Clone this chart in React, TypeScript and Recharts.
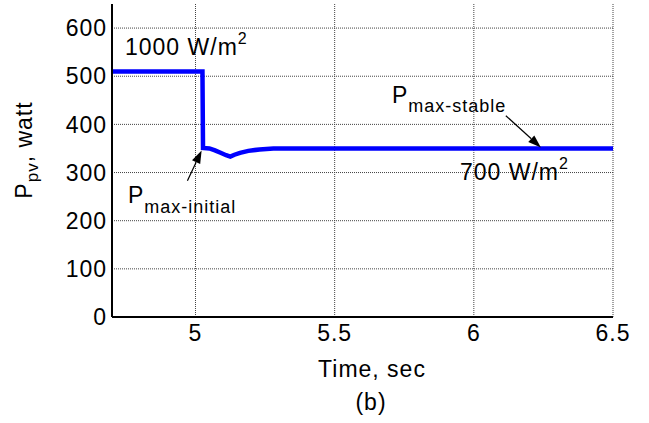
import React from "react";
import {
  LineChart,
  Line,
  XAxis,
  YAxis,
  CartesianGrid,
  ReferenceLine,
} from "recharts";

// time (s) and PV power (W)
const timeSec = [
  4.7, 5.025, 5.027, 5.05, 5.07, 5.09, 5.11, 5.125, 5.14, 5.16, 5.19, 5.23, 5.28,
  5.35, 6.5,
];
const powerW = [
  510, 510, 351, 350, 346, 341, 336, 333, 337, 341, 345, 348, 350, 350, 350,
];

const xTicks = [5, 5.5, 6, 6.5];
const yTicks = [0, 100, 200, 300, 400, 500, 600];

const data = timeSec.map((t, i) => ({ t, p: powerW[i] }));

const font = "'Liberation Sans', Arial, sans-serif";

function Arrow(props: any) {
  const { x1, y1, x2, y2 } = props;
  const ang = Math.atan2(y2 - y1, x2 - x1);
  const len = 13;
  const w = 4.5;
  const bx = x2 - len * Math.cos(ang);
  const by = y2 - len * Math.sin(ang);
  const px = -Math.sin(ang) * w;
  const py = Math.cos(ang) * w;
  return (
    <g>
      <line x1={x1} y1={y1} x2={bx} y2={by} stroke="#000" strokeWidth={1.2} />
      <polygon
        points={`${x2},${y2} ${bx + px},${by + py} ${bx - px},${by - py}`}
        fill="#000"
      />
    </g>
  );
}

export default function App() {
  return (
    <div
      style={{
        position: "absolute",
        left: 0,
        top: 0,
        width: 649,
        height: 423,
        background: "#fff",
      }}
    >
      <LineChart
        width={649}
        height={423}
        data={data}
        margin={{ top: 4, right: 36, bottom: 66, left: 0 }}
      >
        <CartesianGrid
          xAxisId="main"
          yAxisId="main"
          syncWithTicks
          stroke="#444"
          strokeDasharray="1 1"
        />
        <XAxis
          xAxisId="main"
          dataKey="t"
          type="number"
          domain={[4.7, 6.5]}
          ticks={xTicks}
          allowDataOverflow
          height={40}
          tickLine={false}
          tickSize={6}
          tickMargin={2}
          axisLine={{ stroke: "#000", strokeWidth: 2 }}
          tick={{ fill: "#000", fontSize: 23, fontFamily: font, letterSpacing: 1 }}
        />
        <XAxis
          xAxisId="top"
          orientation="top"
          type="number"
          domain={[4.7, 6.5]}
          ticks={xTicks}
          height={0}
          tick={false}
          tickLine={false}
          axisLine={{ stroke: "#000", strokeWidth: 1.5 }}
        />
        <YAxis
          yAxisId="main"
          type="number"
          domain={[0, 650]}
          ticks={yTicks}
          width={112}
          tickLine={false}
          tickSize={3}
          tickMargin={2}
          axisLine={{ stroke: "#000", strokeWidth: 2 }}
          tick={{ fill: "#000", fontSize: 23, fontFamily: font, letterSpacing: 1 }}
        />
        <YAxis
          yAxisId="right"
          orientation="right"
          type="number"
          domain={[0, 650]}
          ticks={yTicks}
          width={0}
          tick={false}
          tickLine={false}
          axisLine={{ stroke: "#000", strokeWidth: 1.5 }}
        />
        <Line
          xAxisId="main"
          yAxisId="main"
          dataKey="p"
          type="linear"
          stroke="#0000ff"
          strokeWidth={4.5}
          dot={false}
          isAnimationActive={false}
        />
        <ReferenceLine
          xAxisId="main"
          yAxisId="main"
          segment={[
            { x: 4.971, y: 283 },
            { x: 5.022, y: 346 },
          ]}
          shape={Arrow}
          ifOverflow="visible"
        />
        <ReferenceLine
          xAxisId="main"
          yAxisId="main"
          segment={[
            { x: 6.115, y: 418 },
            { x: 6.241, y: 352 },
          ]}
          shape={Arrow}
          ifOverflow="visible"
        />
      </LineChart>
      <svg
        width={649}
        height={423}
        style={{ position: "absolute", left: 0, top: 0, pointerEvents: "none" }}
        fontFamily={font}
        fill="#000"
      >
        <text
          transform="translate(32,150) rotate(-90)"
          textAnchor="middle"
          fontSize={23}
          letterSpacing={1}
        >
          P<tspan fontSize={17} dy={6}>pv</tspan>
          <tspan dy={-6}>, watt</tspan>
        </text>
        <text x={125} y={55} fontSize={23} letterSpacing={1}>
          1000 W/m<tspan fontSize={16} dy={-11}>2</tspan>
        </text>
        <text x={460} y={180} fontSize={23} letterSpacing={1}>
          700 W/m<tspan fontSize={16} dy={-11}>2</tspan>
        </text>
        <text x={392} y={103} fontSize={23} letterSpacing={1}>
          P<tspan fontSize={18} dy={9}>max-stable</tspan>
        </text>
        <text x={128} y={203} fontSize={23} letterSpacing={1}>
          P<tspan fontSize={18} dy={10}>max-initial</tspan>
        </text>
        <text x={372} y={377} textAnchor="middle" fontSize={23} letterSpacing={1}>
          Time, sec
        </text>
        <text x={371} y={410} textAnchor="middle" fontSize={23} letterSpacing={1}>
          (b)
        </text>
      </svg>
    </div>
  );
}
